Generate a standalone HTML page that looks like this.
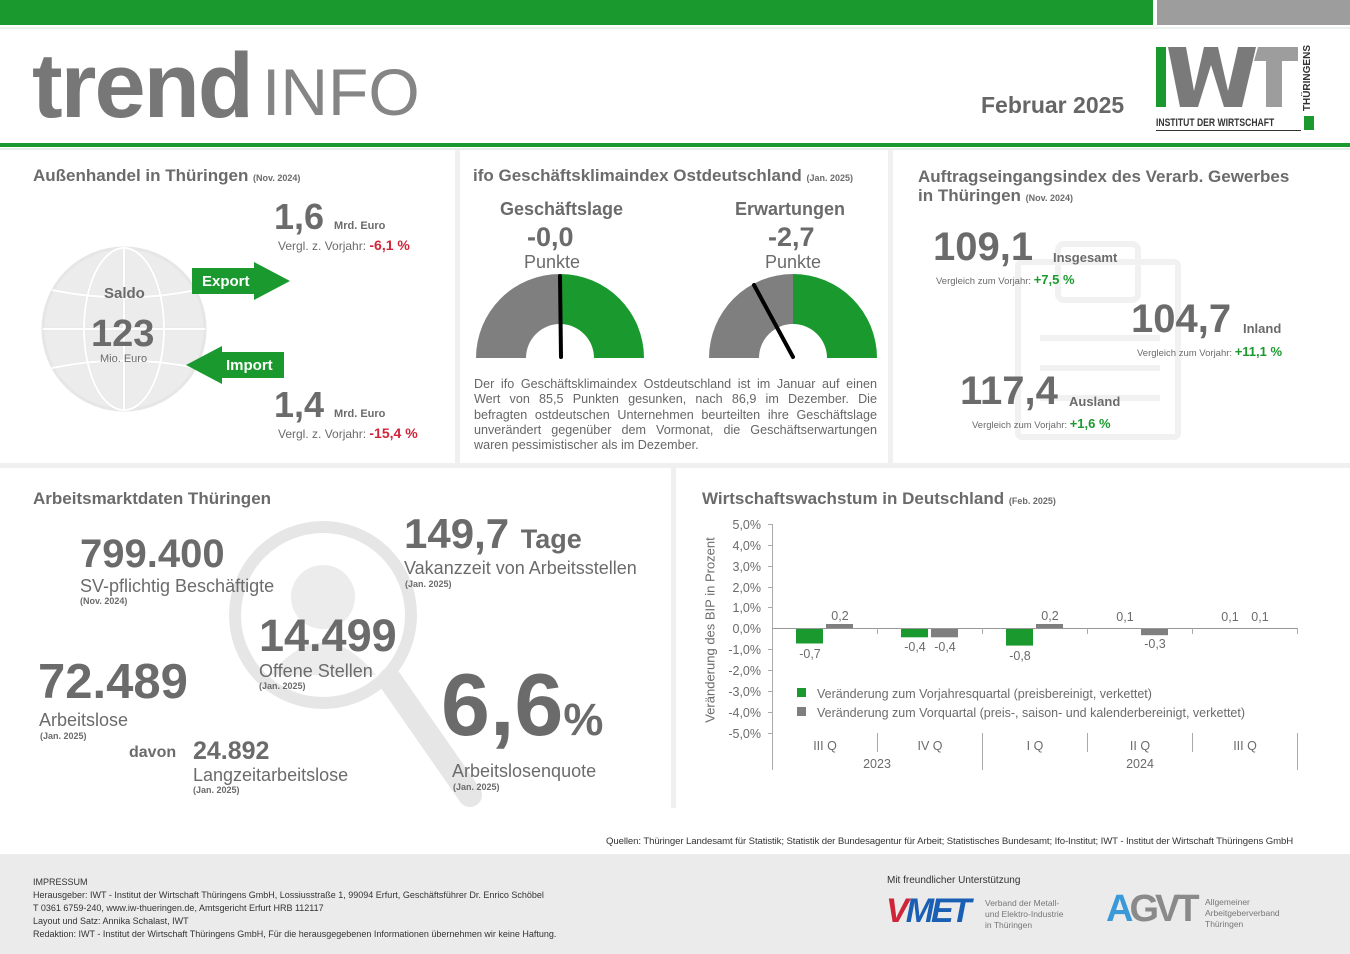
<!DOCTYPE html>
<html><head><meta charset="utf-8"><style>
body{margin:0;width:1350px;height:954px;position:relative;background:#fff;font-family:"Liberation Sans",Arial,sans-serif;color:#6b6b6b;overflow:hidden}
.t{position:absolute;white-space:nowrap;line-height:1}
.b{font-weight:bold}
.r{color:#d0243a}.g{color:#1a9a2e}
.s{font-size:9px;font-weight:bold}
</style></head><body>
<div style="position:absolute;left:0;top:0;width:1153px;height:25px;background:#1a9a2e"></div>
<div style="position:absolute;left:1157px;top:0;width:193px;height:25px;background:#9d9d9d"></div>
<div style="position:absolute;left:0;top:27px;width:1350px;height:2px;background:#eef2ef"></div>
<div class="t b" style="left:32px;top:40px;font-size:92px;color:#777;letter-spacing:-2px">trend</div>
<div class="t" style="left:262px;top:59px;font-size:66px;color:#858585;letter-spacing:0px">INFO</div>
<div class="t b" style="left:981px;top:94px;font-size:23px;color:#666">Februar 2025</div>
<div style="position:absolute;left:1156px;top:47px;width:10px;height:60px;background:#1a9a2e"></div>
<svg style="position:absolute;left:1168px;top:47px" width="135" height="62"><polygon points="0,0 18,0 26,44 36,0 50,0 60,44 70,0 88,0 74,60 56,60 43,18 30,60 12,60" fill="#7a7a7a"/><polygon points="90,0 130,0 130,14 114,14 114,60 98,60 98,14 86,14" fill="#9d9d9d"/></svg>
<div class="t b" style="left:1156px;top:118px;font-size:11px;color:#333;transform:scaleX(0.78);transform-origin:left">INSTITUT DER WIRTSCHAFT</div>
<div class="t b" style="left:1303px;top:45px;font-size:10px;color:#333;writing-mode:vertical-rl;transform:rotate(180deg)">THÜRINGENS</div>
<div style="position:absolute;left:1304px;top:116px;width:10px;height:14px;background:#1a9a2e"></div>
<div style="position:absolute;left:1156px;top:130px;width:145px;height:1px;background:#333"></div>
<div style="position:absolute;left:0;top:143px;width:1350px;height:4px;background:#1a9a2e"></div>
<div style="position:absolute;left:0;top:148px;width:1350px;height:2px;background:#e4efe6"></div>
<div style="position:absolute;left:455px;top:150px;width:5px;height:314px;background:#f0f0f0"></div>
<div style="position:absolute;left:888px;top:150px;width:5px;height:314px;background:#f0f0f0"></div>
<div style="position:absolute;left:0;top:463px;width:1350px;height:5px;background:#f0f0f0"></div>
<div style="position:absolute;left:671px;top:468px;width:5px;height:340px;background:#f0f0f0"></div>

<div class="t b" style="left:33px;top:167px;font-size:17px">Außenhandel in Thüringen <span class="s">(Nov. 2024)</span></div>
<svg style="position:absolute;left:40px;top:245px" width="170" height="168"><g fill="none" stroke="#e6e6e6" stroke-width="3"><circle cx="84" cy="84" r="81" fill="#ececec"/><ellipse cx="84" cy="84" rx="40" ry="81"/><line x1="84" y1="3" x2="84" y2="165"/><line x1="3" y1="84" x2="165" y2="84"/><path d="M12,45 Q84,60 156,45"/><path d="M12,123 Q84,108 156,123"/></g><g fill="none" stroke="#fff" stroke-width="2"><ellipse cx="84" cy="84" rx="40" ry="81"/><line x1="84" y1="3" x2="84" y2="165"/><line x1="3" y1="84" x2="165" y2="84"/><path d="M12,45 Q84,60 156,45"/><path d="M12,123 Q84,108 156,123"/></g></svg>
<div class="t b" style="left:104px;top:286px;font-size:15px">Saldo</div>
<div class="t b" style="left:91px;top:315px;font-size:38px">123</div>
<div class="t" style="left:100px;top:354px;font-size:11px">Mio. Euro</div>
<svg style="position:absolute;left:192px;top:262px" width="100" height="40"><polygon points="0,6 62,6 62,0 98,19 62,38 62,32 0,32" fill="#1a9a2e"/></svg>
<div class="t b" style="left:202px;top:274px;font-size:15px;color:#fff">Export</div>
<svg style="position:absolute;left:186px;top:346px" width="100" height="40"><polygon points="98,6 36,6 36,0 0,19 36,38 36,32 98,32" fill="#1a9a2e"/></svg>
<div class="t b" style="left:226px;top:358px;font-size:15px;color:#fff">Import</div>
<div class="t b" style="left:274px;top:199px;font-size:36px">1,6 <span style="font-size:11px">Mrd. Euro</span></div>
<div class="t" style="left:278px;top:238px;font-size:12px">Vergl. z. Vorjahr: <span class="r b" style="font-size:14px">-6,1 %</span></div>
<div class="t b" style="left:274px;top:387px;font-size:36px">1,4 <span style="font-size:11px">Mrd. Euro</span></div>
<div class="t" style="left:278px;top:426px;font-size:12px">Vergl. z. Vorjahr: <span class="r b" style="font-size:14px">-15,4 %</span></div>

<div class="t b" style="left:473px;top:167px;font-size:17px">ifo Geschäftsklimaindex Ostdeutschland <span class="s">(Jan. 2025)</span></div>
<div class="t b" style="left:500px;top:200px;font-size:18px">Geschäftslage</div>
<div class="t b" style="left:735px;top:200px;font-size:18px">Erwartungen</div>
<div class="t b" style="left:527px;top:224px;font-size:27px">-0,0</div>
<div class="t b" style="left:768px;top:224px;font-size:27px">-2,7</div>
<div class="t" style="left:524px;top:253px;font-size:18px">Punkte</div>
<div class="t" style="left:765px;top:253px;font-size:18px">Punkte</div>
<svg style="position:absolute;left:470px;top:270px" width="420" height="95">
<path d="M6,88 A84,84 0 0 1 90,4 L90,54 A34,34 0 0 0 56,88 Z" fill="#7f7f7f"/>
<path d="M90,4 A84,84 0 0 1 174,88 L124,88 A34,34 0 0 0 90,54 Z" fill="#1a9a2e"/>
<line x1="90" y1="6" x2="91" y2="87" stroke="#000" stroke-width="4" stroke-linecap="round"/>
<path d="M239,88 A84,84 0 0 1 323,4 L323,54 A34,34 0 0 0 289,88 Z" fill="#7f7f7f"/>
<path d="M323,4 A84,84 0 0 1 407,88 L357,88 A34,34 0 0 0 323,54 Z" fill="#1a9a2e"/>
<line x1="284" y1="15" x2="323" y2="87" stroke="#000" stroke-width="4" stroke-linecap="round"/>
</svg>
<div style="position:absolute;left:474px;top:377px;width:403px;font-size:12.6px;line-height:15.3px;text-align:justify;color:#666">Der ifo Geschäftsklimaindex Ostdeutschland ist im Januar auf einen Wert von 85,5 Punkten gesunken, nach 86,9 im Dezember. Die befragten ostdeutschen Unternehmen beurteilten ihre Geschäftslage unverändert gegenüber dem Vormonat, die Geschäftserwartungen waren pessimistischer als im Dezember.</div>

<svg style="position:absolute;left:1010px;top:238px" width="175" height="205"><g fill="none" stroke="#f1f1f1" stroke-width="6"><rect x="8" y="24" width="160" height="175" rx="4"/><rect x="48" y="6" width="80" height="56" rx="6"/><line x1="30" y1="100" x2="150" y2="100"/><line x1="30" y1="130" x2="150" y2="130"/><line x1="30" y1="160" x2="150" y2="160"/></g></svg>
<div class="t b" style="left:918px;top:167px;font-size:17px;line-height:19px">Auftragseingangsindex des Verarb. Gewerbes<br>in Thüringen <span class="s">(Nov. 2024)</span></div>
<div class="t b" style="left:933px;top:227px;font-size:40px">109,1</div>
<div class="t b" style="left:1053px;top:251px;font-size:13px">Insgesamt</div>
<div class="t" style="left:936px;top:273px;font-size:9.5px">Vergleich zum Vorjahr: <span class="g b" style="font-size:13px">+7,5 %</span></div>
<div class="t b" style="left:1131px;top:299px;font-size:40px">104,7</div>
<div class="t b" style="left:1243px;top:322px;font-size:13px">Inland</div>
<div class="t" style="left:1137px;top:345px;font-size:9.5px">Vergleich zum Vorjahr: <span class="g b" style="font-size:13px">+11,1 %</span></div>
<div class="t b" style="left:960px;top:371px;font-size:40px">117,4</div>
<div class="t b" style="left:1069px;top:395px;font-size:13px">Ausland</div>
<div class="t" style="left:972px;top:417px;font-size:9.5px">Vergleich zum Vorjahr: <span class="g b" style="font-size:13px">+1,6 %</span></div>

<svg style="position:absolute;left:225px;top:515px" width="260" height="300"><g fill="none" stroke="#e6e6e6"><circle cx="98" cy="100" r="88" stroke-width="12"/><line x1="165" y1="165" x2="245" y2="280" stroke-width="24" stroke-linecap="round"/></g><circle cx="98" cy="82" r="32" fill="#ececec"/><path d="M45,160 Q98,95 151,160 Z" fill="#ececec"/></svg>
<div class="t b" style="left:33px;top:490px;font-size:17px">Arbeitsmarktdaten Thüringen</div>
<div class="t b" style="left:80px;top:534px;font-size:40px">799.400</div>
<div class="t" style="left:80px;top:577px;font-size:18px">SV-pflichtig Beschäftigte</div>
<div class="t s" style="left:80px;top:597px">(Nov. 2024)</div>
<div class="t b" style="left:404px;top:513px;font-size:42px">149,7 <span style="font-size:27px">Tage</span></div>
<div class="t" style="left:404px;top:559px;font-size:18px">Vakanzzeit von Arbeitsstellen</div>
<div class="t s" style="left:405px;top:580px">(Jan. 2025)</div>
<div class="t b" style="left:259px;top:613px;font-size:45px">14.499</div>
<div class="t" style="left:259px;top:662px;font-size:18px">Offene Stellen</div>
<div class="t s" style="left:259px;top:682px">(Jan. 2025)</div>
<div class="t b" style="left:38px;top:658px;font-size:49px">72.489</div>
<div class="t" style="left:39px;top:711px;font-size:18px">Arbeitslose</div>
<div class="t s" style="left:40px;top:732px">(Jan. 2025)</div>
<div class="t b" style="left:129px;top:745px;font-size:16px">davon</div>
<div class="t b" style="left:193px;top:739px;font-size:25px">24.892</div>
<div class="t" style="left:193px;top:766px;font-size:18px">Langzeitarbeitslose</div>
<div class="t s" style="left:193px;top:786px">(Jan. 2025)</div>
<div class="t b" style="left:441px;top:661px;font-size:88px">6,6<span style="font-size:45px">%</span></div>
<div class="t" style="left:452px;top:762px;font-size:18px">Arbeitslosenquote</div>
<div class="t s" style="left:453px;top:783px">(Jan. 2025)</div>

<div class="t b" style="left:702px;top:490px;font-size:17px">Wirtschaftswachstum in Deutschland <span class="s">(Feb. 2025)</span></div>
<div class="t" style="left:710px;top:630px;font-size:13px;transform:translate(-50%,-50%) rotate(-90deg);transform-origin:center">Veränderung des BIP in Prozent</div>
<svg style="position:absolute;left:720px;top:510px" width="600" height="280" font-family="Liberation Sans,Arial,sans-serif" font-size="12.5" fill="#6b6b6b">
<g stroke="#aaa" stroke-width="1">
<line x1="52.5" y1="14" x2="52.5" y2="260"/>
<line x1="52" y1="118.5" x2="577" y2="118.5" stroke="#999"/>
<line x1="157.5" y1="118" x2="157.5" y2="124"/><line x1="262.5" y1="118" x2="262.5" y2="124"/><line x1="367.5" y1="118" x2="367.5" y2="124"/><line x1="472.5" y1="118" x2="472.5" y2="124"/><line x1="577.5" y1="118" x2="577.5" y2="124"/>
<line x1="157.5" y1="223" x2="157.5" y2="242"/><line x1="262.5" y1="223" x2="262.5" y2="260"/><line x1="367.5" y1="223" x2="367.5" y2="242"/><line x1="472.5" y1="223" x2="472.5" y2="242"/><line x1="577.5" y1="223" x2="577.5" y2="260"/>
<line x1="48" y1="14.5" x2="52" y2="14.5"/><line x1="48" y1="35.5" x2="52" y2="35.5"/><line x1="48" y1="56.5" x2="52" y2="56.5"/><line x1="48" y1="77.5" x2="52" y2="77.5"/><line x1="48" y1="97.5" x2="52" y2="97.5"/><line x1="48" y1="139.5" x2="52" y2="139.5"/><line x1="48" y1="160.5" x2="52" y2="160.5"/><line x1="48" y1="181.5" x2="52" y2="181.5"/><line x1="48" y1="202.5" x2="52" y2="202.5"/><line x1="48" y1="223.5" x2="52" y2="223.5"/>
</g>
<g text-anchor="end"><text x="41" y="19">5,0%</text><text x="41" y="40">4,0%</text><text x="41" y="61">3,0%</text><text x="41" y="82">2,0%</text><text x="41" y="102">1,0%</text><text x="41" y="123">0,0%</text><text x="41" y="144">-1,0%</text><text x="41" y="165">-2,0%</text><text x="41" y="186">-3,0%</text><text x="41" y="207">-4,0%</text><text x="41" y="228">-5,0%</text></g>
<rect x="76" y="119" width="27" height="14.5" fill="#1a9a2e"/><rect x="106" y="114" width="27" height="4.2" fill="#7f7f7f"/>
<rect x="181" y="119" width="27" height="8.3" fill="#1a9a2e"/><rect x="211" y="119" width="27" height="8.3" fill="#7f7f7f"/>
<rect x="286" y="119" width="27" height="16.6" fill="#1a9a2e"/><rect x="316" y="114" width="27" height="4.2" fill="#7f7f7f"/>
<rect x="421" y="119" width="27" height="6.2" fill="#7f7f7f"/>
<g text-anchor="middle"><text x="90" y="148">-0,7</text><text x="120" y="110">0,2</text><text x="195" y="141">-0,4</text><text x="225" y="141">-0,4</text><text x="300" y="150">-0,8</text><text x="330" y="110">0,2</text><text x="405" y="111">0,1</text><text x="435" y="138">-0,3</text><text x="510" y="111">0,1</text><text x="540" y="111">0,1</text>
<text x="105" y="240">III Q</text><text x="210" y="240">IV Q</text><text x="315" y="240">I Q</text><text x="420" y="240">II Q</text><text x="525" y="240">III Q</text>
<text x="157" y="258">2023</text><text x="420" y="258">2024</text></g>
<rect x="77" y="178" width="9" height="9" fill="#1a9a2e"/><rect x="77" y="197" width="9" height="9" fill="#7f7f7f"/>
<text x="97" y="188">Veränderung zum Vorjahresquartal (preisbereinigt, verkettet)</text>
<text x="97" y="207">Veränderung zum Vorquartal (preis-, saison- und kalenderbereinigt, verkettet)</text>
</svg>

<div class="t" style="left:606px;top:837px;font-size:9.6px;color:#333;letter-spacing:-0.1px">Quellen: Thüringer Landesamt für Statistik; Statistik der Bundesagentur für Arbeit; Statistisches Bundesamt; Ifo-Institut; IWT - Institut der Wirtschaft Thüringens GmbH</div>

<div style="position:absolute;left:0;top:854px;width:1350px;height:100px;background:#ebebeb"></div>
<div style="position:absolute;left:33px;top:876px;font-size:9px;line-height:13px;color:#333">IMPRESSUM<br>Herausgeber: IWT - Institut der Wirtschaft Thüringens GmbH, Lossiusstraße 1, 99094 Erfurt, Geschäftsführer Dr. Enrico Schöbel<br>T 0361 6759-240, www.iw-thueringen.de, Amtsgericht Erfurt HRB 112117<br>Layout und Satz: Annika Schalast, IWT<br>Redaktion: IWT - Institut der Wirtschaft Thüringens GmbH, Für die herausgegebenen Informationen übernehmen wir keine Haftung.</div>
<div class="t" style="left:887px;top:876px;font-size:10px;color:#333">Mit freundlicher Unterstützung</div>
<div class="t b" style="left:886px;top:894px;font-size:34px;color:#d0243a;font-style:italic;letter-spacing:-3px">V<span style="color:#1a5fb4">MET</span></div>
<div style="position:absolute;left:985px;top:898px;font-size:8.5px;line-height:11px;color:#777">Verband der Metall-<br>und Elektro-Industrie<br>in Thüringen</div>
<div class="t b" style="left:1106px;top:890px;font-size:38px;color:#3a9ad9;letter-spacing:-4px">A<span style="color:#8a8a8a">GVT</span></div>
<div style="position:absolute;left:1205px;top:897px;font-size:8.5px;line-height:11px;color:#777">Allgemeiner<br>Arbeitgeberverband<br>Thüringen</div>
</body></html>
